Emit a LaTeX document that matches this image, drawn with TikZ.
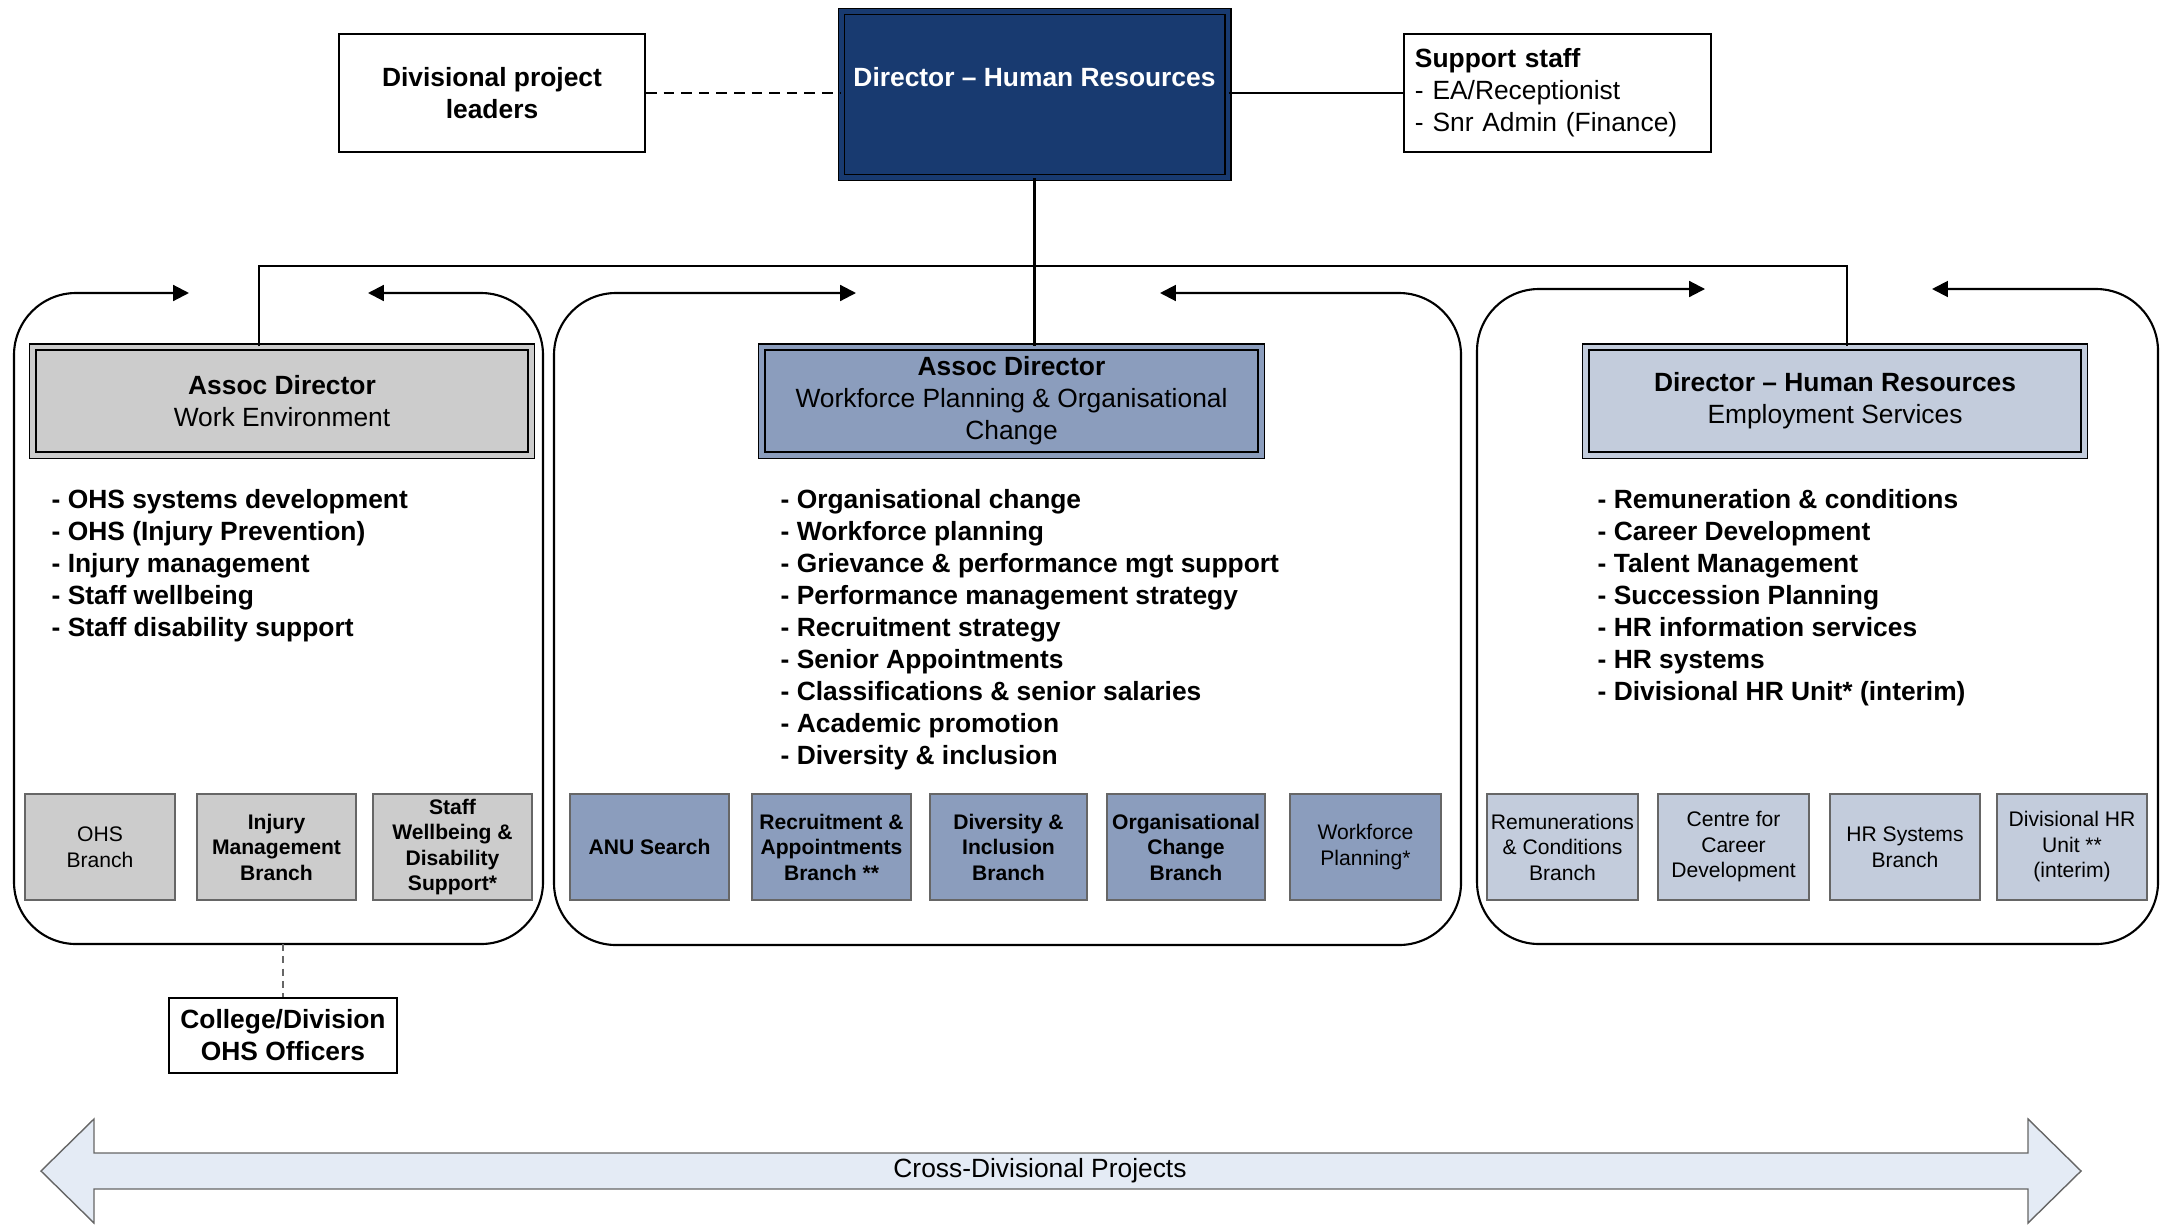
\documentclass[tikz,border=0pt]{standalone}
\usepackage{fontspec}
\setmainfont{Liberation Sans}
\usetikzlibrary{arrows.meta}
\definecolor{hrnavy}{HTML}{183A70}
\definecolor{headgray}{HTML}{CCCCCC}
\definecolor{wpblue}{HTML}{8B9DBD}
\definecolor{esblue}{HTML}{C3CCDC}
\definecolor{crossfill}{HTML}{E4EBF5}
\newcommand{\txtfont}{\fontsize{7.5}{9.1}\selectfont}
\newcommand{\brfont}{\fontsize{6}{7.25}\selectfont}
\tikzset{
  head/.style={font=\txtfont, draw=black, line width=0.4pt, double=#1, double distance=1.4pt, fill=#1, minimum height=1.08cm, align=center, inner sep=1pt},
  branch/.style={font=\brfont, draw=black!60, fill=#1, minimum height=1.06cm, align=center, inner xsep=1pt, inner ysep=0.5pt},
  panel/.style={line width=0.6pt, rounded corners=0.62cm, {Triangle[length=4.5pt,width=4.5pt]}-{Triangle[length=4.5pt,width=4.5pt]}},
  plainbox/.style={font=\txtfont, draw, line width=0.6pt, align=center},
  duties/.style={font=\txtfont\bfseries, align=left, anchor=north west, inner sep=0pt}
}
\begin{document}
\begin{tikzpicture}[x=0.01cm,y=-0.01cm]
\useasboundingbox (0,0) rectangle (2161,1224);

% top row
\node[plainbox, font=\txtfont\bfseries, minimum width=3.06cm, minimum height=1.18cm] (leaders) at (492,93) {Divisional project\\leaders};
\node[draw=black, line width=0.5pt, double=hrnavy, double distance=1.2pt, fill=hrnavy, minimum width=3.86cm, minimum height=1.66cm] (hrdir) at (1034.5,94.5) {};
\node[font=\txtfont\bfseries, text=white] (hrdirtxt) at (1034.5,77) {Director – Human Resources};
\node[plainbox, align=left, text width=2.85cm, inner xsep=0.11cm, minimum height=1.18cm] (support) at (1557.5,93) {\textbf{Support staff}\\- EA/Receptionist\\- Snr Admin (Finance)};

\draw[dash pattern=on 3pt off 2pt, line width=0.6pt] (leaders.east) -- (leaders.east -| hrdir.west);
\draw[line width=0.6pt] (support.west -| hrdir.east) -- (support.west);

% panels
\draw[panel] (189,293) -- (14,293) -- (14,944) -- (543,944) -- (543,293) -- (368,293);
\draw[panel] (856,293) -- (554,293) -- (554,945) -- (1461,945) -- (1461,293) -- (1160,293);
\draw[panel] (1705,289) -- (1477,289) -- (1477,944) -- (2158,944) -- (2158,289) -- (1932,289);

% heads
\node[head=headgray, minimum width=4.98cm] (adwe) at (282,401) {\textbf{Assoc Director}\\Work Environment};
\node[head=wpblue, minimum width=4.99cm] (adwp) at (1011.5,401) {\textbf{Assoc Director}\\Workforce Planning \& Organisational\\Change};
\node[head=esblue, minimum width=4.98cm] (ades) at (1835,401) {\textbf{Director – Human Resources}\\Employment Services};

\coordinate (busL) at (259,266);
\coordinate (busM) at (1034.5,266);
\coordinate (busR) at (1847,266);
\draw[line width=0.6pt] (hrdir.south) -- (busM);
\draw[line width=0.6pt] (adwe.north -| busL) -- (busL) -- (busR) -- (ades.north -| busR);
\draw[line width=0.6pt] (busM) -- (adwp.north -| busM);

% duties
\node[duties] (welist) at (51,489) {- OHS systems development\\- OHS (Injury Prevention)\\- Injury management\\- Staff wellbeing\\- Staff disability support};
\node[duties] (wplist) at (780,489) {- Organisational change\\- Workforce planning\\- Grievance \& performance mgt support\\- Performance management strategy\\- Recruitment strategy\\- Senior Appointments\\- Classifications \& senior salaries\\- Academic promotion\\- Diversity \& inclusion};
\node[duties] (eslist) at (1597,489) {- Remuneration \& conditions\\- Career Development\\- Talent Management\\- Succession Planning\\- HR information services\\- HR systems\\- Divisional HR Unit* (interim)};

% branches
\node[branch=headgray, minimum width=1.50cm] (ohs) at (100,847) {OHS\\Branch};
\node[branch=headgray, minimum width=1.59cm, font=\brfont\bfseries] (injury) at (276.5,847) {Injury\\Management\\Branch};
\node[branch=headgray, minimum width=1.59cm, font=\brfont\bfseries] (wellb) at (452.5,847) {Staff\\Wellbeing \&\\Disability\\Support*};
\node[branch=wpblue, minimum width=1.59cm, font=\brfont\bfseries] (anu) at (649.5,847) {ANU Search};
\node[branch=wpblue, minimum width=1.59cm, font=\brfont\bfseries] (recruit) at (831.5,847) {Recruitment \&\\Appointments\\Branch **};
\node[branch=wpblue, minimum width=1.57cm, font=\brfont\bfseries] (divers) at (1008.5,847) {Diversity \&\\Inclusion\\Branch};
\node[branch=wpblue, minimum width=1.58cm, font=\brfont\bfseries] (orgch) at (1186,847) {Organisational\\Change\\Branch};
\node[branch=wpblue, minimum width=1.51cm] (wfp) at (1365.5,847) {Workforce\\Planning*};
\node[branch=esblue, minimum width=1.51cm] (remun) at (1562.5,847) {Remunerations\\\& Conditions\\Branch};
\node[branch=esblue, minimum width=1.51cm] (career) at (1733.5,847) {Centre for\\Career\\Development};
\node[branch=esblue, minimum width=1.50cm] (hrsys) at (1905,847) {HR Systems\\Branch};
\node[branch=esblue, minimum width=1.50cm] (divhr) at (2072,847) {Divisional HR\\Unit **\\(interim)};

% OHS officers
\coordinate (webot) at (283,944);
\node[plainbox, font=\txtfont\bfseries, minimum width=2.26cm, minimum height=0.71cm] (ohsoff) at (283,1035.5) {College/Division\\OHS Officers};
\draw[dash pattern=on 2pt off 1.5pt, black!60, line width=0.5pt] (webot) -- (ohsoff);

% cross-divisional arrow
\draw[fill=crossfill, draw=black!60, line width=0.4pt] (41,1171) -- (94,1119) -- (94,1153) -- (2028,1153) -- (2028,1119) -- (2081,1171) -- (2028,1223) -- (2028,1189) -- (94,1189) -- (94,1223) -- cycle;
\node[font=\txtfont] (cross) at (1040,1171) {Cross-Divisional Projects};
\end{tikzpicture}
\end{document}
